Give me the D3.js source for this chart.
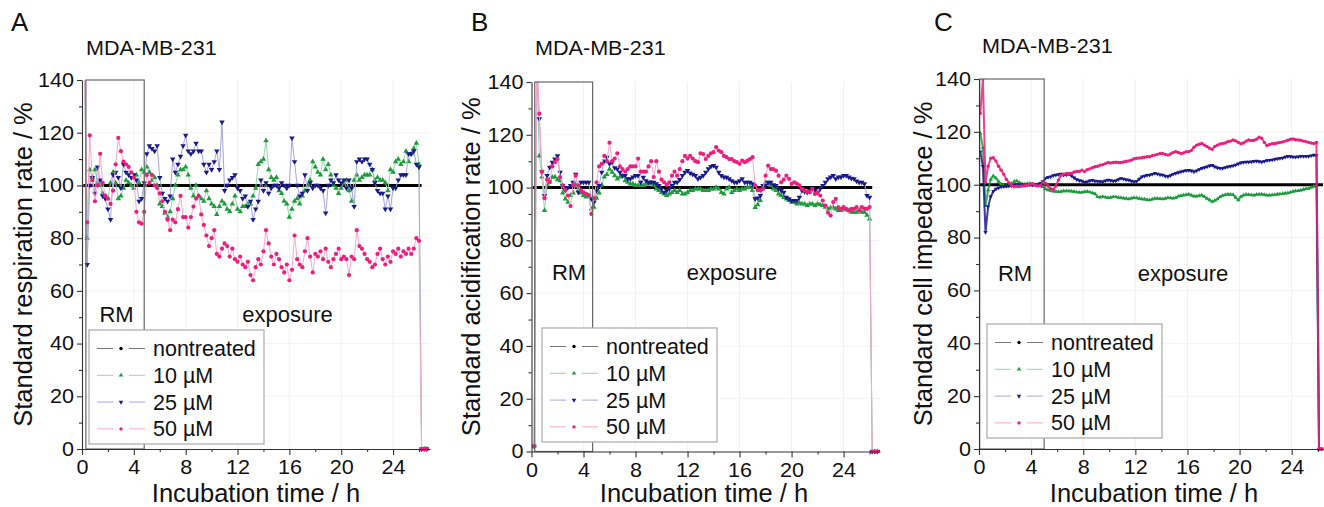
<!DOCTYPE html>
<html>
<head>
<meta charset="utf-8">
<script src="https://cdnjs.cloudflare.com/ajax/libs/d3/7.8.5/d3.min.js"></script>
<style>
body { margin: 0; background: #fff; }
svg { display: block; font-family: "Liberation Sans", Arial, sans-serif; }
</style>
</head>
<body>
<div id="my_chart"></div>
<script>
// ---- data ----
var tStep = 0.2; // h between samples

// A: respiration, first sample at 0.2 h
var respT0 = 0.2;
var resp10 = [145, 80, 106, 103, 106, 101, 100, 97, 96, 95,
	101, 105, 101, 95, 96, 99, 102, 101, 100, 99,
	104, 101, 106, 105, 107, 105, 102, 103, 100, 93,
	92, 89.5, 88, 90, 95, 100, 104, 106, 106, 107,
	104, 99, 96, 100, 96, 95, 94, 98, 95, 93,
	92, 89, 92, 94, 93, 91, 90, 93, 96, 91,
	90, 92, 92, 93, 93, 96, 99, 108, 109, 110,
	117, 106, 103, 102, 103, 98, 97, 94, 93, 88,
	91, 94, 95, 93, 96, 98, 100, 102, 109, 107,
	105, 104, 110, 106, 108, 104, 100, 99, 97, 99,
	101, 102, 98, 94, 102, 104, 102, 103, 104, 104,
	104, 106, 102, 103, 102, 102, 101, 98, 106, 105,
	109, 110, 108, 109, 113, 109, 112, 114, 116, 108,
	0, 0, 0];
var resp25 = [145, 70, 100, 103, 97, 107, 102, 96, 95, 91,
	87, 104, 105, 103, 99, 108, 105, 104, 103, 104,
	102, 94, 95, 101, 112, 115, 114, 113, 115, 103,
	97, 95, 94, 96, 110, 105, 108, 111, 115, 119,
	113, 112, 113, 116, 113, 113, 108, 105, 108, 106,
	109, 113, 106, 124, 98, 100, 102, 103, 104, 99,
	98, 95, 96, 92, 94, 87, 91, 94, 102, 98,
	101, 97, 99, 100, 100, 99, 101, 100, 99, 100,
	118, 109, 100, 96, 97, 104, 98, 101, 99, 100,
	100, 99, 98, 89.5, 100, 102, 101, 104, 102, 101,
	102, 99, 102, 99, 92, 109, 110, 109, 110, 110,
	108, 106, 101, 98, 97, 97, 91, 96, 91, 99,
	99, 102, 104, 104, 104, 112, 112, 113, 108, 107,
	0, 0, 0];
var resp50 = [145, 86, 119, 102, 94, 100, 112, 101, 96, 95,
	93, 98, 108, 118, 113, 109, 108, 107, 105, 103,
	90, 86, 85.5, 90, 104, 101, 104, 100, 99, 97,
	94, 90, 87, 83, 87, 86, 91, 96, 88, 88,
	84, 88, 92, 95, 96, 89, 85, 81, 77, 80,
	83, 74, 73, 76, 78, 77, 73, 76, 72, 71,
	73, 70, 69, 71, 66, 64, 69, 72, 70, 75,
	83, 78, 73, 70, 74, 72, 69, 67, 70, 64,
	68, 81, 72, 70, 69, 75, 80, 73, 67, 74,
	73, 75, 72, 76, 71, 69, 72, 74, 76, 72,
	73, 72, 66, 73, 72, 83, 77, 76, 74, 72,
	71, 69, 70, 74, 76, 72, 70, 73, 71, 75,
	74, 76, 73, 75, 74, 76, 74, 76, 80, 79,
	0, 0, 0];

// B: acidification, first sample at 0.2 h
var acidT0 = 0.2;
var acid10 = [2, 145, 112, 104, 91.3, 101, 103, 103.9, 104, 103,
	102.6, 98, 95.7, 94.5, 97, 98, 101, 99, 98, 97,
	96.5, 97, 91.9, 92.6, 96, 98, 101, 104, 105, 107,
	105.8, 104.5, 103.3, 104, 104.5, 102.6, 102, 101.4, 101.4, 100.8,
	100.8, 100.8, 100.8, 101.4, 101.4, 102, 101, 99.5, 98.9, 98.2,
	97.6, 97, 97.6, 98.2, 98.9, 98.2, 98.9, 97.6, 97.6, 98.2,
	98.9, 98.9, 99.5, 99.5, 99.5, 98.9, 98.9, 98.9, 99.5, 99.5,
	100.1, 99.5, 98.2, 97.6, 99.5, 100.1, 98.2, 98.9, 99.5, 98.9,
	99.5, 99.5, 100.1, 100.1, 98.9, 92.5, 93.5, 95.1, 100.1, 102,
	101.4, 100.8, 99.5, 98.9, 97.6, 97, 96.3, 95.7, 95.1, 94.5,
	94.5, 93.8, 94.2, 93.8, 93.8, 93.2, 93.8, 93.8, 93.2, 93.8,
	93.5, 93.2, 92.6, 91.9, 92.3, 92.6, 91.9, 91.3, 91.3, 91.9,
	91.6, 91.3, 90.7, 90.7, 90.7, 91.3, 90.7, 90.7, 89.5, 88.1,
	0, 0, 0];
var acid25 = [2, 150, 126, 106, 97, 104.5, 107.7, 109.6, 110.8, 112,
	105.8, 100.8, 99, 100, 100.8, 102, 105, 98.2, 102, 102,
	102, 102, 95.7, 94.5, 98.9, 100.8, 105.8, 110, 111.5, 109,
	109.6, 107.5, 107, 105.8, 104.5, 104.5, 103.3, 103.3, 104, 104.5,
	104.5, 102, 103.9, 102.6, 102, 102, 102, 101.4, 100.8, 99.5,
	98.2, 98.9, 99.5, 100.8, 102, 102, 103, 104.5, 105.8, 106.4,
	105.5, 105, 104.5, 103.3, 103.9, 104.5, 105.8, 107.1, 108, 108.3,
	107.7, 105.8, 104.5, 104, 103.9, 103.3, 102.6, 102, 102, 102.6,
	103.3, 102, 102, 102, 101.4, 95.7, 96, 97, 100.8, 100.8,
	102, 102, 101, 100.8, 99.5, 98.9, 98.2, 96.3, 95.7, 95.1,
	95.1, 95.1, 96.3, 98.9, 98.5, 98.2, 98.9, 99.5, 98.9, 98.2,
	99.5, 100.8, 102, 103.3, 104, 104.5, 103.3, 104, 104, 104.5,
	104.5, 104, 103.5, 103.3, 102.5, 102, 102, 101.4, 97, 96.3,
	0, 0, 0];
var acid50 = [2, 150, 128, 106, 96, 103, 102, 108, 109.6, 110.8,
	104, 100.8, 99, 97, 93, 101, 104.5, 100.8, 99, 98.2,
	97.6, 97, 90, 96, 102, 108, 109, 112, 110, 117,
	110, 111, 113, 108, 107, 106, 107, 108, 108, 108,
	111, 106, 106, 106, 108, 110, 104, 110, 106, 103,
	102, 101, 102, 104.5, 106, 104.5, 107, 110, 112, 111,
	112, 111, 110, 109.6, 113, 112.7, 110.8, 112, 113, 113.4,
	115.3, 114, 113.4, 112, 111.5, 110.8, 110.8, 110, 109.6, 109,
	110.2, 109.6, 110.2, 110.8, 111.5, 100.8, 99, 98.9, 99.5, 104.5,
	108.3, 107, 107, 106.4, 104.5, 102, 103, 104.5, 103.3, 101.4,
	102, 101.5, 100.8, 99.5, 98.9, 98.5, 98.2, 99.5, 97.6, 98.2,
	97, 95.1, 93.2, 90.5, 89.4, 94.5, 95.7, 92.5, 91.9, 92.6,
	91.9, 91.3, 91.9, 91.9, 92.6, 91.3, 92.6, 92, 91.9, 92.6,
	0, 0, 0];

// C: impedance, first sample at 0.1 h
var impT0 = 0.1;
var imp10 = [119.5, 114, 92, 98, 102, 103.3, 102.5, 101.2, 100.2, 99.6,
	99.4, 99.6, 100.4, 101.2, 101.4, 100.8, 100.4, 100.2, 100.4, 100.5,
	100.3, 100, 99.8, 99.6, 99.2, 98.4, 98, 97.8, 97.5, 97.4,
	97.3, 97.4, 97.6, 97.6, 97.6, 97.5, 97.4, 97.2, 97.1, 97.1,
	97.3, 97.4, 97.2, 96.9, 96.6, 95.4, 95.3, 95.5, 95.3, 95.1,
	95.2, 95.4, 95.4, 95.2, 95.1, 94.9, 94.8, 94.6, 94.9, 95.1,
	95, 94.8, 94.6, 94.5, 94.3, 94.2, 94.5, 94.8, 94.8, 94.7,
	94.6, 94.8, 95.1, 95, 94.9, 95.1, 95.6, 95.8, 96, 96.2,
	96.4, 96, 95.6, 95.6, 95.8, 96, 95.5, 94.8, 94.2, 93.6,
	94, 94.6, 95.4, 95.9, 96.2, 96.4, 96.3, 96.2, 95.2, 94.2,
	95.5, 96, 96.3, 96.2, 96.1, 96, 96.3, 96.4, 96.4, 96.2,
	96, 96, 96.1, 96.2, 96.4, 96.5, 96.6, 96.8, 96.9, 97.1,
	97.4, 97.6, 97.7, 97.9, 98.2, 98.5, 98.6, 99, 99.3, 99.8,
	0, 0];
var imp25 = [112.5, 107, 82, 91.7, 95.5, 97.5, 98.4, 98.8, 99.2, 99.3,
	99.4, 99.5, 99.6, 99.8, 100, 100, 100, 99.9, 100, 100,
	99.9, 100, 100.2, 100.6, 101.2, 102.4, 102.8, 103, 103.5, 103.7,
	103.9, 104.1, 103.7, 103.8, 104, 103.4, 102.6, 102, 101.6, 101.4,
	100.9, 101.1, 101.5, 101.7, 101.4, 101.3, 101.2, 101.1, 101.5, 101.8,
	101.6, 101.4, 101.5, 102, 102.4, 102.2, 101.9, 101.8, 101.4, 101.1,
	101.3, 102.2, 103, 103.3, 103.6, 103.7, 104, 104.3, 104.1, 103.8,
	103.7, 103.3, 103.1, 103.5, 104, 104.3, 104.6, 104.9, 105.2, 105.4,
	105.5, 105.3, 104.9, 105.3, 105.8, 106.2, 106.5, 106.8, 107.2, 107.4,
	106.8, 106.4, 106.2, 106.2, 106.5, 106.8, 107, 107.2, 107.5, 107.9,
	108.3, 108.5, 108.6, 108.6, 108.7, 108.9, 109, 108.8, 108.6, 108.9,
	109.2, 109.3, 109.4, 109.6, 109.8, 110, 110.1, 110.5, 110.8, 110.7,
	110.5, 110.5, 110.6, 110.8, 110.8, 110.8, 110.8, 111, 111.2, 111.1,
	0, 0];
var imp50 = [127, 140, 101, 107, 110, 110.2, 109, 107, 105.5, 104,
	102, 100.8, 99.8, 99.2, 99.4, 99.3, 99.5, 99.6, 99.8, 100.2,
	100.4, 99.8, 99.5, 99.6, 101, 100.6, 99.5, 98.5, 98.2, 99.5,
	101.8, 103.5, 104, 104.3, 104.3, 104.3, 104.8, 105, 105, 105.5,
	105, 105.7, 106, 106.4, 106.8, 107, 107.4, 107.6, 108, 108.4,
	108.2, 108.4, 108.5, 108.4, 108.4, 108.6, 108.9, 109, 109.3, 109.8,
	110, 110.1, 110.2, 110.4, 110.6, 110.6, 111, 111.2, 111.5, 111.8,
	111.8, 111.5, 111.2, 111.6, 112.2, 112.5, 112.2, 111.8, 112, 112.5,
	112.5, 113, 114.2, 115, 115.3, 115.6, 115, 114.5, 113.8, 113.4,
	114.5, 115, 115.4, 115.6, 115.8, 116.3, 116.5, 116.9, 116.6, 116,
	115.5, 115.8, 116.5, 116.9, 116.7, 116.8, 117.2, 118, 117.6, 116,
	114.8, 115.2, 115.5, 115.6, 115.8, 116, 116.2, 116.5, 116.8, 117.2,
	117.3, 117, 116.9, 116.8, 116.5, 116.3, 116, 115.8, 115.6, 116,
	0, 0];

// nontreated reference (normalised to 100 %)
var nontreatedLevel = [100, 100];
var respNonT = [0.1, 26.2];
var acidNonT = [0.1, 26.2];
var impNonT = [0.0, 26.4];

// RM phase (start, end) in h
var respRM = [0.3, 4.8];
var acidRM = [0.25, 4.7];
var impRM = [0.05, 5.0];

var xTicks = [0, 4, 8, 12, 16, 20, 24];
var xMinor = [2, 6, 10, 14, 18, 22, 26];
var yTicks = [0, 20, 40, 60, 80, 100, 120, 140];
var yMinor = [10, 30, 50, 70, 90, 110, 130];
var legendLabels = ["nontreated", "10 \u00b5M", "25 \u00b5M", "50 \u00b5M"];

// ---- styles ----
var markColors = ["#000000", "#1f9b3d", "#1b1a8a", "#ec1f7f"];
var lineColors = ["#777777", "#96d8a6", "#a6a6de", "#f6a8cd"];
var symTypes = [d3.symbolCircle, d3.symbolTriangle, d3.symbolTriangle, d3.symbolCircle];
var symRot = [0, 0, 180, 0];

var width = 1324, height = 507;
var svg = d3.select("#my_chart")
	.append("svg")
	.attr("width", width)
	.attr("height", height);

var panels = [
	{ letter: "A", ylabel: "Standard respiration rate / %", t0: respT0, series: [resp10, resp25, resp50],
	  nonT: respNonT, rm: respRM, xr: [82, 430], xmax: 26.85, yr: [449, 80],
	  letterX: 11, titleX: 86, titleY: 55, ylabX: 31.5, xlabX: 256,
	  legend: [89, 330], rmX: 116.5, expX: 287.5, phaseY: 322, msize: 13 },
	{ letter: "B", ylabel: "Standard acidification rate / %", t0: acidT0, series: [acid10, acid25, acid50],
	  nonT: acidNonT, rm: acidRM, xr: [531.5, 880], xmax: 26.8, yr: [451.5, 82],
	  letterX: 471, titleX: 535, titleY: 55, ylabX: 480, xlabX: 704,
	  legend: [542, 328], rmX: 569, expX: 732, phaseY: 280, msize: 13 },
	{ letter: "C", ylabel: "Standard cell impedance / %", t0: impT0, series: [imp10, imp25, imp50],
	  nonT: impNonT, rm: impRM, xr: [979, 1324], xmax: 26.48, yr: [449, 79],
	  letterX: 934, titleX: 982, titleY: 53, ylabX: 932, xlabX: 1154,
	  legend: [987, 324], rmX: 1015, expX: 1183, phaseY: 281, msize: 8 }
];

function addText(parent, txt, x, y, size, anchor, sx) {
	return parent.append("text")
		.attr("transform", "translate(" + x + "," + y + ") scale(" + (sx || 1) + ",1)")
		.attr("text-anchor", anchor || "start")
		.attr("font-size", size)
		.attr("fill", "#111")
		.text(txt);
}

function symbolPath(k, size) {
	return d3.symbol().type(symTypes[k]).size(size)();
}

panels.forEach(function(p, pi) {
	var x = d3.scaleLinear().domain([0, p.xmax]).range(p.xr);
	var y = d3.scaleLinear().domain([0, 140]).range(p.yr);
	var g = svg.append("g");
	var dense = p.msize < 10; // panel C: continuous-looking traces

	// very faint grid
	g.selectAll(".vgrid").data(xTicks.slice(1)).join("line")
		.attr("x1", d => x(d)).attr("x2", d => x(d))
		.attr("y1", y(140)).attr("y2", y(0))
		.attr("stroke", "#f1f1f1");
	g.selectAll(".hgrid").data(yTicks.slice(1, -1)).join("line")
		.attr("x1", p.xr[0]).attr("x2", p.xr[1])
		.attr("y1", d => y(d)).attr("y2", d => y(d))
		.attr("stroke", "#f3f3f3");

	var clipId = "clip" + pi;
	svg.append("clipPath").attr("id", clipId)
		.append("rect")
		.attr("x", p.xr[0]).attr("y", p.yr[1])
		.attr("width", p.xr[1] - p.xr[0]).attr("height", p.yr[0] - p.yr[1] + 3);
	var plot = g.append("g").attr("clip-path", "url(#" + clipId + ")");

	var line = d3.line().x(d => x(d.t)).y(d => y(d.v));

	// nontreated: thick black line
	plot.append("path")
		.datum(p.nonT.map((t, i) => ({ t: t, v: nontreatedLevel[i] })))
		.attr("d", line)
		.attr("fill", "none")
		.attr("stroke", "#000")
		.attr("stroke-width", 3);

	p.series.forEach(function(vals, si) {
		var k = si + 1;
		var pts = vals.map((v, i) => ({ t: p.t0 + i * tStep, v: v }));
		plot.append("path")
			.datum(pts)
			.attr("d", line)
			.attr("fill", "none")
			.attr("stroke", dense ? markColors[k] : lineColors[k])
			.attr("stroke-width", dense ? 2 : 1)
			.attr("stroke-opacity", dense ? 0.85 : 1);
		plot.selectAll(".m" + k).data(pts).join("path")
			.attr("class", "m" + k)
			.attr("transform", d => "translate(" + x(d.t) + "," + y(d.v) + ") rotate(" + symRot[k] + ")")
			.attr("d", symbolPath(k, k === 3 ? p.msize + 1 : p.msize))
			.attr("fill", markColors[k]);
	});

	// RM box
	g.append("rect")
		.attr("x", x(p.rm[0])).attr("y", y(140))
		.attr("width", x(p.rm[1]) - x(p.rm[0]))
		.attr("height", y(0) - y(140))
		.attr("fill", "none")
		.attr("stroke", "#666")
		.attr("stroke-width", 1.2);

	// axes
	var xAxis = g.append("g").attr("transform", "translate(0," + p.yr[0] + ")")
		.call(d3.axisBottom(x).tickValues(xTicks).tickSize(6).tickPadding(5).tickSizeOuter(0));
	g.append("g").attr("transform", "translate(0," + p.yr[0] + ")")
		.call(d3.axisBottom(x).tickValues(xMinor).tickSize(3).tickFormat("").tickSizeOuter(0))
		.call(a => a.select(".domain").remove());
	var yAxis = g.append("g").attr("transform", "translate(" + p.xr[0] + ",0)")
		.call(d3.axisLeft(y).tickValues(yTicks).tickSize(5).tickPadding(2.5).tickSizeOuter(0));
	g.append("g").attr("transform", "translate(" + p.xr[0] + ",0)")
		.call(d3.axisLeft(y).tickValues(yMinor).tickSize(3).tickFormat("").tickSizeOuter(0))
		.call(a => a.select(".domain").remove());
	g.selectAll(".domain, .tick line").attr("stroke", "#333").attr("stroke-width", 1.1);
	[xAxis, yAxis].forEach(function(a) {
		a.selectAll("text")
			.attr("font-size", 20)
			.attr("font-family", "\"Liberation Sans\", Arial, sans-serif")
			.attr("fill", "#111")
			.attr("transform", "scale(1.08,1)");
	});

	// texts
	addText(g, p.letter, p.letterX, 31, 26, "start");
	addText(g, "MDA-MB-231", p.titleX, p.titleY, 20, "start", 1.08);
	addText(g, "Incubation time / h", p.xlabX, 502, 25.5, "middle");
	g.append("text")
		.attr("transform", "translate(" + p.ylabX + "," + ((p.yr[0] + p.yr[1]) / 2) + ") rotate(-90)")
		.attr("text-anchor", "middle")
		.attr("font-size", 25.5)
		.attr("fill", "#111")
		.text(p.ylabel);
	addText(g, "RM", p.rmX, p.phaseY, 22, "middle");
	addText(g, "exposure", p.expX, p.phaseY, 22, "middle");

	// legend
	var lx = p.legend[0], ly = p.legend[1];
	var lg = g.append("g");
	lg.append("rect")
		.attr("x", lx).attr("y", ly)
		.attr("width", 175).attr("height", 114)
		.attr("fill", "#fff")
		.attr("stroke", "#aaa")
		.attr("stroke-width", 1.2);
	legendLabels.forEach(function(lab, i) {
		var by = ly + 26 + i * 26.8;
		var my = by - 7.5;
		[[8, 24], [40, 56]].forEach(function(seg) {
			lg.append("line")
				.attr("x1", lx + seg[0]).attr("x2", lx + seg[1])
				.attr("y1", my).attr("y2", my)
				.attr("stroke", lineColors[i])
				.attr("stroke-width", 1);
		});
		lg.append("path")
			.attr("transform", "translate(" + (lx + 32) + "," + my + ") rotate(" + symRot[i] + ")")
			.attr("d", symbolPath(i, 9))
			.attr("fill", markColors[i]);
		addText(lg, lab, lx + 64, by, 21.5, "start");
	});
});
</script>
</body>
</html>
